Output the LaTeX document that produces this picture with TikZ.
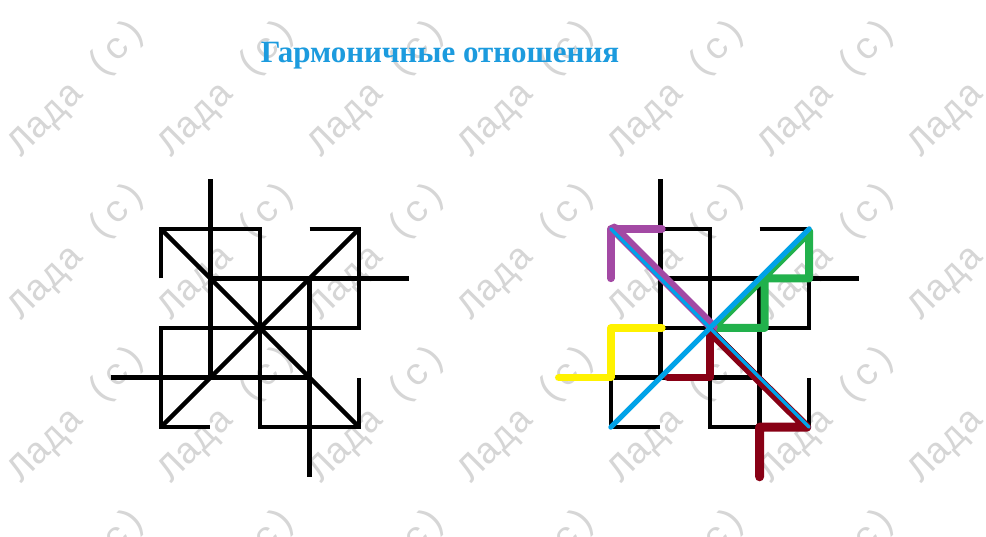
\documentclass[tikz,border=0pt]{standalone}
\usepackage{fontspec}
\setmainfont{Liberation Serif}
\newfontfamily\wmfont{Liberation Mono}
\definecolor{titleblue}{RGB}{28,155,222}
\definecolor{wmgray}{RGB}{214,214,214}
\definecolor{pblue}{RGB}{0,162,232}
\definecolor{ppurple}{RGB}{163,73,164}
\definecolor{pgreen}{RGB}{34,177,76}
\definecolor{pred}{RGB}{136,0,21}
\definecolor{pyellow}{RGB}{255,242,0}
\newcommand\drawBaseStar{%
  \draw[blk] (-2,1) -- (-2,2) -- (0,2) -- (0,-2) -- (2,-2) -- (2,-1);
  \draw[blk] (1,2) -- (2,2) -- (2,0) -- (-2,0) -- (-2,-2) -- (-1,-2);
  \draw[blk] (-1,3) -- (-1,-1);
  \draw[blk] (3,1) -- (-1,1);
  \draw[blk] (1,-3) -- (1,1);
  \draw[blk] (-3,-1) -- (1,-1);
  \draw[blk] (-2,2) -- (2,-2);
  \draw[blk] (2,2) -- (-2,-2);
}
\begin{document}
\begin{tikzpicture}[x=1pt,y=-1pt,
  blk/.style={line width=4.5pt, black, line cap=butt, line join=miter},
  col/.style={line width=7.5pt, line cap=round, line join=round},
  wm/.style={font=\wmfont\fontsize{37}{37}\selectfont, text=wmgray, rotate=45, inner sep=0pt},
  ttl/.style={font=\fontsize{31}{31}\selectfont\bfseries, text=titleblue, inner sep=0pt}]
\useasboundingbox (0,0) rectangle (986,537);
\fill[white] (0,0) rectangle (986,537);
\begin{scope}
  \clip (0,0) rectangle (986,537);
  \foreach \i in {0,...,6} {
    \foreach \j in {0,...,3} {
      \node[wm] (wm-\i-\j) at ({78+150*\i},{88+163*\j}) {Лада (с)};
    }
  }
\end{scope}
\node[ttl, anchor=base] (title) at (440,63) {Гармоничные отношения};
% left figure
\begin{scope}[shift={(260,328)}, x=49.6pt, y=49.6pt]
  \drawBaseStar
\end{scope}
% right figure
\begin{scope}[shift={(710,328)}, x=49.6pt, y=49.6pt]
  \drawBaseStar
  \draw[col, pyellow] (-3.05,-1) -- (-2,-1) -- (-2,0) -- (-0.97,0);
  \draw[col, pgreen, line width=8pt] (0.06,0) -- (2,1.94) -- (2,1) -- (1.1,1) -- (1.1,0) -- cycle;
  \draw[col, ppurple] (-2,1) -- (-2,2) -- (-0.97,2);
  \draw[col, ppurple, line width=10.5pt] (-1.93,2) -- (0.05,0.02);
  \draw[col, pred, line width=9pt] (0,-0.07) -- (1.95,-2) -- (1,-2) -- (1,-3);
  \draw[col, pred] (0,-0.1) -- (0,-1) -- (-0.85,-1);
  \draw[col, pblue, line width=3.5pt] (-2,2) -- (2,-2);
  \draw[col, pblue, line width=5pt] (-2,-2) -- (2,2);
\end{scope}
\end{tikzpicture}
\end{document}
